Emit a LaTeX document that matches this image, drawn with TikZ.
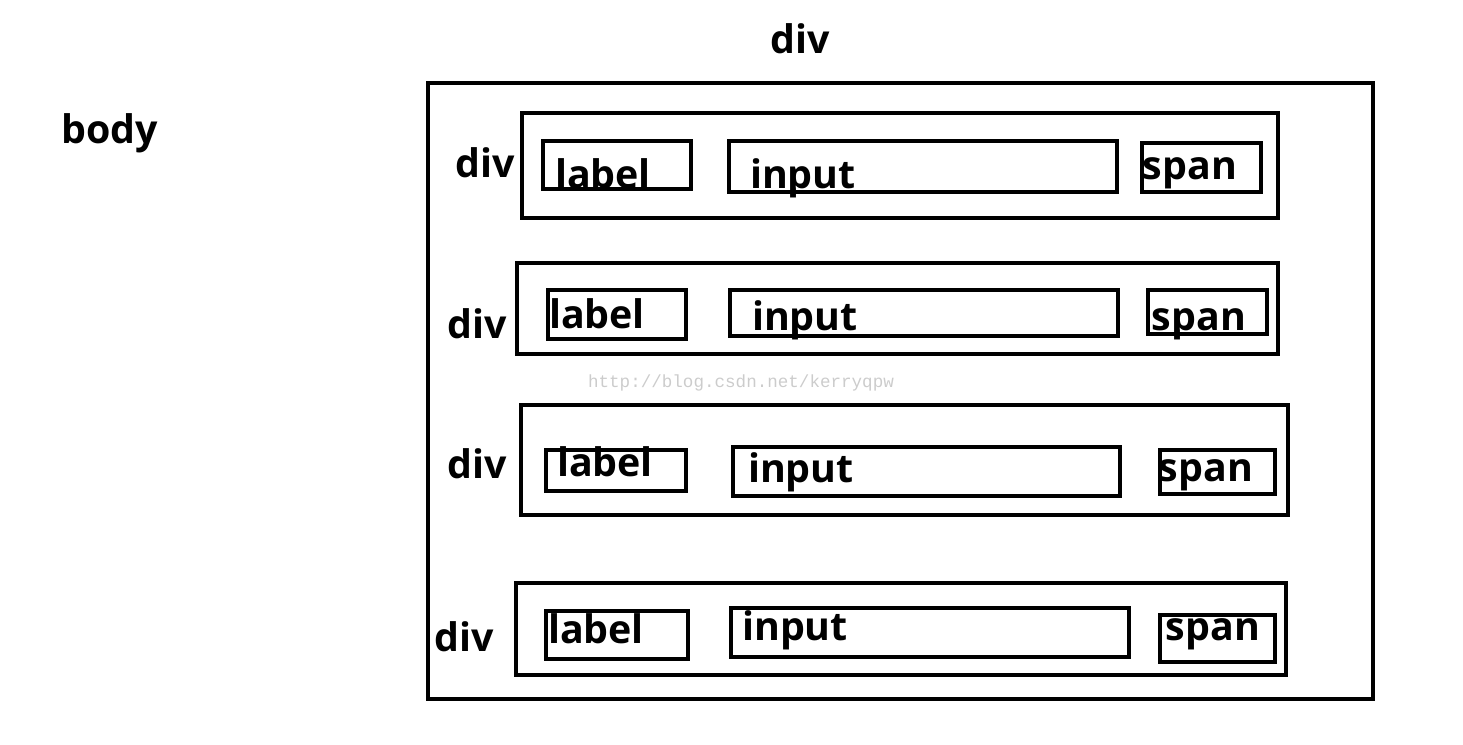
\documentclass[tikz,border=0pt]{standalone}
\usepackage{fontspec}
\setmainfont{Open Sans}
\newfontfamily\wmfont{Liberation Mono}
\begin{document}
\begin{tikzpicture}[thick,
    box/.style={draw,line width=1.4pt,inner sep=0pt},
    tag/.style={anchor=base,inner sep=0pt,font=\fontsize{11.2pt}{12pt}\selectfont\bfseries},
    mark text/.style={inner sep=0pt,text=gray!40,font=\wmfont\fontsize{5pt}{5.5pt}\selectfont}]
                \useasboundingbox (0,0) rectangle (14.63,-7.44);

                \node[tag] at (8.00,-0.53) (top) {div};
                \node[tag] at (1.10,-1.43) (body) {body};
                \node[box,minimum width=9.45cm,minimum height=6.16cm] at (9.005,-3.91) (outer) {};

                % row 1
                \node[box,minimum width=7.56cm,minimum height=1.05cm] at (9.00,-1.655) (row1) {};
                \node[box,minimum width=1.48cm,minimum height=0.48cm] at (6.17,-1.65) (lab1) {};
                \node[box,minimum width=3.88cm,minimum height=0.51cm] at (9.23,-1.665) (inp1) {};
                \node[box,minimum width=1.19cm,minimum height=0.49cm] at (12.015,-1.675) (spn1) {};
                \node[tag] at (4.85,-1.77) (d1) {div};
                \node[tag] at (6.03,-1.88) (l1) {label};
                \node[tag] at (8.03,-1.88) (i1) {input};
                \node[tag] at (11.90,-1.79) (s1) {span};

                % row 2
                \node[box,minimum width=7.61cm,minimum height=0.91cm] at (8.975,-3.085) (row2) {};
                \node[box,minimum width=1.38cm,minimum height=0.49cm] at (6.17,-3.145) (lab2) {};
                \node[box,minimum width=3.88cm,minimum height=0.46cm] at (9.24,-3.13) (inp2) {};
                \node[box,minimum width=1.19cm,minimum height=0.44cm] at (12.075,-3.12) (spn2) {};
                \node[tag] at (4.77,-3.38) (d2) {div};
                \node[tag] at (5.97,-3.28) (l2) {label};
                \node[tag] at (8.05,-3.30) (i2) {input};
                \node[tag] at (11.99,-3.30) (s2) {span};

                \node[mark text] at (7.41,-3.83) (mark) {http://blog.csdn.net/kerryqpw};

                % row 3
                \node[box,minimum width=7.67cm,minimum height=1.10cm] at (9.045,-4.60) (row3) {};
                \node[box,minimum width=1.40cm,minimum height=0.41cm] at (6.16,-4.705) (lab3) {};
                \node[box,minimum width=3.87cm,minimum height=0.49cm] at (9.265,-4.715) (inp3) {};
                \node[box,minimum width=1.15cm,minimum height=0.44cm] at (12.175,-4.72) (spn3) {};
                \node[tag] at (4.77,-4.78) (d3) {div};
                \node[tag] at (6.05,-4.76) (l3) {label};
                \node[tag] at (8.01,-4.82) (i3) {input};
                \node[tag] at (12.06,-4.81) (s3) {span};

                % row 4
                \node[box,minimum width=7.70cm,minimum height=0.92cm] at (9.01,-6.29) (row4) {};
                \node[box,minimum width=1.42cm,minimum height=0.48cm] at (6.17,-6.35) (lab4) {};
                \node[box,minimum width=3.98cm,minimum height=0.49cm] at (9.30,-6.325) (inp4) {};
                \node[box,minimum width=1.15cm,minimum height=0.47cm] at (12.175,-6.385) (spn4) {};
                \node[tag] at (4.64,-6.51) (d4) {div};
                \node[tag] at (5.96,-6.43) (l4) {label};
                \node[tag] at (7.95,-6.40) (i4) {input};
                \node[tag] at (12.13,-6.40) (s4) {span};
            \end{tikzpicture}
\end{document}
